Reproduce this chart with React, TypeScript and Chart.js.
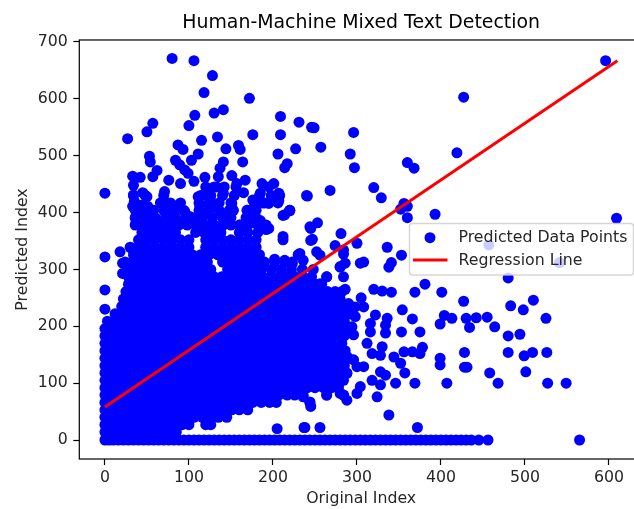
import React, { useEffect, useRef } from "react";
import { Chart, registerables } from "chart.js";

Chart.register(...registerables);

const chartTitle = "Human-Machine Mixed Text Detection";
const xAxisTitle = "Original Index";
const yAxisTitle = "Predicted Index";
const pointLabel = "Predicted Data Points";
const lineLabel = "Regression Line";

const xTicks = [0, 100, 200, 300, 400, 500, 600];
const yTicks = [0, 100, 200, 300, 400, 500, 600, 700];

const regressionX = [0, 610];
const regressionY = [58, 667];

// points lying on the zero line (x values)
const baselineX = [0,5,10,16,22,28,34,40,46,52,58,64,70,76,82,88,94,100,106,112,118,124,130,136,142,148,154,160,166,172,178,184,190,196,202,208,214,220,226,232,238,244,250,256,262,268,274,280,286,292,298,304,310,316,322,328,334,340,346,352,358,364,370,376,382,388,394,400,406,412,418,424,430,436,445,456,565];

// solid cloud, read row by row: [y, x values]
const cloudRows: [number, number[]][] = [
  [14, [0,8,18,28,38,47,57,68,78,85]],
  [27, [0,5,13,23,33,42,52,62,73,82,92,100,120,126]],
  [40, [0,8,18,27,37,47,57,67,78,87,97,106,116,126,135,145]],
  [53, [0,5,13,22,32,43,52,62,72,83,92,102,111,121,131,141,151,160,170]],
  [66, [0,8,18,27,37,47,57,67,77,88,97,107,116,126,136,146,156,166,176,186,196,204,244]],
  [79, [0,4,14,24,33,43,52,62,72,81,91,101,110,120,130,139,149,159,168,178,188,197,207,217,226,236,264,284]],
  [92, [0,9,19,28,38,48,57,67,77,86,96,106,115,125,135,144,154,164,173,183,193,202,212,222,231,241,250,260,270,278]],
  [105, [0,4,14,24,33,43,52,62,72,81,91,101,110,120,130,139,149,159,168,178,188,197,207,217,226,236,246,255,265,275,284]],
  [118, [0,9,19,29,38,48,58,67,77,87,96,106,116,125,135,145,154,164,174,183,193,203,212,222,232,241,251,261,270,280,288]],
  [131, [0,4,14,23,33,43,53,62,72,82,91,101,111,120,130,140,149,159,169,178,188,198,207,217,227,236,246,256,265,275,285]],
  [144, [0,9,19,28,38,48,57,67,77,87,96,106,115,125,135,144,154,164,173,183,193,203,212,222,231,241,251,260,270,279,290]],
  [157, [0,4,14,24,33,43,53,62,72,81,91,101,110,120,130,139,149,159,168,178,188,197,207,217,226,236,246,255,264,276,286]],
  [170, [0,9,19,28,38,48,58,67,77,86,96,106,115,125,135,145,154,164,173,183,193,202,212,222,231,241,251,260,270,282]],
  [183, [0,4,14,24,33,43,52,62,72,82,91,101,110,120,130,139,149,159,168,178,188,198,207,217,226,236,246,255,265,274,285]],
  [196, [0,8,19,28,38,48,57,67,77,86,96,106,115,125,135,144,154,164,173,183,193,202,212,222,231,241,251,260,270,280,290]],
  [209, [3,14,24,33,43,52,62,72,81,91,101,110,120,130,139,149,159,168,178,188,197,207,217,226,236,246,255,265,275,285]],
  [222, [12,21,28,38,48,57,67,77,87,96,106,115,125,135,144,154,164,173,183,193,202,212,222,231,241,251,260,270,281,292]],
  [235, [20,24,33,43,52,62,72,81,91,101,110,120,130,139,149,159,168,178,188,197,207,217,226,236,246,255,265,276,286]],
  [248, [22,28,38,48,57,67,77,86,96,106,115,125,135,144,154,164,173,183,193,202,212,222,231,241,251,260,270,280]],
  [261, [25,33,43,52,62,72,81,91,101,110,120,130,139,149,159,168,178,188,197,207,217,226,236,246,255,265,274]],
  [274, [28,38,48,57,67,77,86,96,106,115,125,135,144,154,164,173,183,193,202,212,222,231,241,251,258]],
  [287, [28,33,43,52,62,72,81,91,101,110,120,130,139,149,159,168,178,188,197,207,217,226,236,246,264]],
  [300, [28,36,46,56,66,76,86,96,106,116,126,146,156,166,176,186,198,210,222,235,248]],
  [313, [24,32,42,52,62,72,82,92,102,112,122,140,150,160,170,180,190,202,214,223]],
  [326, [34,44,54,64,74,84,94,104,114,124,134,144,154,164,174,184,230]],
  [339, [30,40,50,60,70,80,90,100,120,130,140,150,160,170,180]],
  [352, [40,50,60,70,80,90,100,120,130,140,150,160,170,180,212]],
  [365, [44,54,64,74,84,108,118,128,138,160,170,182]],
  [378, [36,46,56,66,78,88,98,108,118,130,140,150,160,170,182,192]],
  [391, [36,48,60,72,84,96,106,116,128,140,150,168,180]],
  [404, [36,46,58,70,82,94,112,124,136,148,170,180,220]],
  [417, [66,78,90,112,124,136,150,178,190,206]],
  [430, [34,48,70,114,126,140,154,184,198,208]],
  [445, [120,130,142,156]],
];

// separately readable points: x and y in matching order
const scatterX = [80,106,128,118,172,141,130,107,57,100,50,27,115,134,176,209,231,209,246,87,93,144,159,161,227,206,111,103,53,54,164,141,217,214,84,89,95,62,57,33,42,34,34,0,45,50,76,71,90,106,119,99,137,135,151,167,157,165,187,201,195,185,207,176,188,195,207,240,220,214,195,244,169,176,185,133,125,117,111,141,151,129,113,153,121,137,69,73,81,89,95,33,43,39,53,37,49,61,73,89,109,125,141,161,175,77,101,145,596,427,249,296,257,292,297,360,368,419,268,241,320,329,356,352,360,360,393,609,253,245,281,247,300,274,284,284,336,353,252,256,232,236,286,280,308,304,341,338,457,541,480,381,369,401,320,330,341,286,282,427,510,483,498,354,525,404,413,430,442,455,366,399,434,464,480,494,353,375,378,356,366,375,428,480,509,499,526,399,399,428,431,458,468,501,527,549,369,407,357,346,338,372,238,256,205,237,305,290,282,298,308,322,336,334,334,316,316,298,294,296,284,312,318,330,328,344,352,328,334,318,328,304,300,284,288,280,264,276,278,324,245,244,236,250,288,296,308,300,288,284,272,272,280,268,256,264,284,280,272,262,256,256,18,0,0,0,21,21,31,45,35,51,38,50,172,181,192,212,220,212,202,214,223,245,245];
const scatterY = [671,667,641,611,601,581,575,571,557,553,542,530,527,533,537,569,559,537,550,519,511,512,518,511,512,503,503,492,499,489,489,489,486,479,492,484,475,474,463,464,462,448,431,434,435,428,457,437,451,455,462,469,478,463,465,457,451,435,451,451,445,434,434,422,417,416,421,430,403,396,372,375,404,402,386,445,440,431,428,434,416,416,410,404,401,401,419,413,413,407,402,411,413,399,401,382,381,384,378,381,378,378,378,378,382,396,393,393,667,603,549,541,515,503,479,488,478,505,439,429,444,426,416,406,411,391,397,390,382,374,363,353,346,342,334,327,339,325,331,325,328,316,311,304,313,311,312,304,343,312,285,274,260,260,265,262,260,265,261,244,246,236,229,229,214,219,214,214,215,216,213,204,198,199,183,186,190,190,163,155,155,152,154,154,154,148,154,144,132,128,128,118,100,120,100,100,100,100,118,100,44,22,22,22,20,22,250,240,231,234,234,220,214,202,188,205,190,217,199,185,185,170,152,164,149,146,135,120,114,105,97,94,82,79,70,82,79,114,97,76,59,67,76,94,147,141,129,129,117,135,182,158,164,252,275,287,287,305,223,223,199,240,331,322,264,230,311,293,338,344,420,411,397,388,404,384,370,358,404,395,318,316,310,372,351];

const cloudPoints = cloudRows.flatMap(([y, xs]) => xs.map((x) => ({ x, y })));
const loosePoints = scatterX.map((x, i) => ({ x, y: scatterY[i] }));
const baselinePoints = baselineX.map((x) => ({ x, y: 0 }));
const allPoints = [...baselinePoints, ...cloudPoints, ...loosePoints];
const linePoints = regressionX.map((x, i) => ({ x, y: regressionY[i] }));

const FONT = '"DejaVu Sans"';
const TEXT = "#262626";

const frameAndLegend = {
  id: "frameAndLegend",
  afterDatasetsDraw(chart: any) {
    const { ctx, chartArea: a } = chart;
    ctx.save();
    ctx.strokeStyle = "#000";
    ctx.lineWidth = 1.2;
    ctx.strokeRect(a.left, a.top, a.right - a.left, a.bottom - a.top);

    const left = 409.5, top = 223.5, w = 224, h = 51.5, r = 3;
    ctx.beginPath();
    ctx.roundRect(left, top, w, h, r);
    ctx.fillStyle = "rgba(255,255,255,0.8)";
    ctx.fill();
    ctx.strokeStyle = "rgba(204,204,204,0.8)";
    ctx.lineWidth = 1.4;
    ctx.stroke();

    const [pts, line] = chart.data.datasets;
    ctx.fillStyle = pts.backgroundColor;
    ctx.beginPath();
    ctx.arc(430, 237.7, pts.pointRadius, 0, Math.PI * 2);
    ctx.fill();
    ctx.strokeStyle = line.borderColor;
    ctx.lineWidth = line.borderWidth;
    ctx.beginPath();
    ctx.moveTo(413, 260);
    ctx.lineTo(447.5, 260);
    ctx.stroke();

    ctx.fillStyle = TEXT;
    ctx.font = `15.75px ${FONT}`;
    ctx.textBaseline = "middle";
    ctx.textAlign = "left";
    ctx.fillText(pts.label, 458.5, 237.5);
    ctx.fillText(line.label, 458.5, 261);
    ctx.restore();
  },
};

export default function App() {
  const ref = useRef<HTMLCanvasElement>(null);
  useEffect(() => {
    document.body.style.margin = "0";
    const chart = new Chart(ref.current!, {
      type: "scatter",
      data: {
        datasets: [
          {
            label: pointLabel,
            data: allPoints,
            backgroundColor: "#0000ff",
            borderColor: "#0000ff",
            pointRadius: 5.5,
            pointBorderWidth: 0,
            order: 2,
          },
          {
            label: lineLabel,
            data: linePoints,
            showLine: true,
            borderColor: "#ff0000",
            backgroundColor: "#ff0000",
            borderWidth: 3,
            pointRadius: 0,
            order: 1,
          },
        ],
      },
      options: {
        animation: false,
        responsive: false,
        layout: { padding: { left: 13, right: 17, top: 0, bottom: 0.5 } },
        plugins: {
          legend: { display: false },
          tooltip: { enabled: false },
          title: {
            display: true,
            text: chartTitle,
            fullSize: false,
            color: "#000",
            font: { family: FONT, size: 18.9, weight: "normal" },
            padding: { top: 11.5, bottom: 5.8 },
          },
        },
        scales: {
          x: {
            type: "linear",
            min: -30.5,
            max: 640.5,
            afterBuildTicks: (s: any) => { s.ticks = xTicks.map((value) => ({ value })); },
            afterFit: (s: any) => { s.height = 49.5; },
            title: {
              display: true,
              text: xAxisTitle,
              color: TEXT,
              font: { family: FONT, size: 15.75 },
              padding: { top: 2, bottom: 0 },
            },
            ticks: {
              autoSkip: false,
              color: TEXT,
              font: { family: FONT, size: 15.75 },
              maxRotation: 0,
              padding: 3,
            },
            grid: { drawOnChartArea: false, tickLength: 6, tickColor: "#000", tickWidth: 1.2 },
            border: { display: false },
          },
          y: {
            type: "linear",
            min: -33.4,
            max: 703.5,
            afterBuildTicks: (s: any) => { s.ticks = yTicks.map((value) => ({ value })); },
            afterFit: (s: any) => { s.width = 66.3; },
            title: {
              display: true,
              text: yAxisTitle,
              color: TEXT,
              font: { family: FONT, size: 15.75 },
              padding: { top: 0, bottom: 0 },
            },
            ticks: {
              autoSkip: false,
              color: TEXT,
              font: { family: FONT, size: 15.75 },
              padding: 5.5,
            },
            grid: { drawOnChartArea: false, tickLength: 6, tickColor: "#000", tickWidth: 1.2 },
            border: { display: false },
          },
        },
      },
      plugins: [frameAndLegend],
    } as any);
    return () => chart.destroy();
  }, []);
  return (
    <div style={{ width: 634, height: 509, overflow: "hidden", position: "relative" }}>
      <canvas ref={ref} width={660} height={509} style={{ display: "block", filter: "blur(0.4px)" }} />
    </div>
  );
}
